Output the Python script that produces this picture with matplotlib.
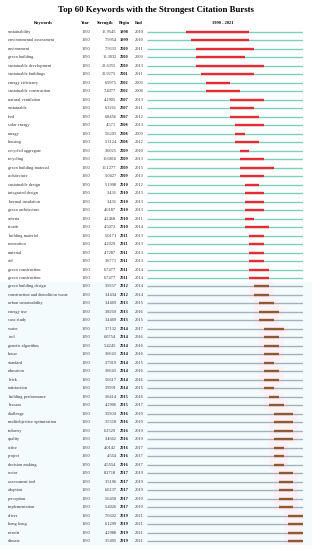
import matplotlib.pyplot as plt
import matplotlib.patches as mpatches

plt.rcParams['font.family'] = ['Liberation Serif', 'DejaVu Serif']

keywords = ['sustainability', 'environmental assessment', 'environment', 'green building',
            'sustainable development', 'sustainable buildings', 'energy efficiency',
            'sustainable construction', 'natural ventilation', 'sustainable', 'leed',
            'solar energy', 'energy', 'housing', 'recycled aggregate', 'recycling',
            'green building material', 'architecture', 'sustainable design', 'integrated design',
            'thermal insulation', 'green architecture', 'criteria', 'facade', 'building material',
            'renovation', 'material', 'cfd', 'green construction', 'green construction',
            'green building design', 'construction and demolition waste', 'urban sustainability',
            'energy use', 'case study', 'water', 'tool', 'genetic algorithm', 'house', 'standard',
            'education', 'brick', 'satisfaction', 'building performance', 'breeam', 'challenge',
            'multiobjective optimization', 'industry', 'quality', 'office', 'project',
            'decision making', 'sector', 'assessment tool', 'adoption', 'perception',
            'implementation', 'driver', 'hong kong', 'retrofit', 'climate']
strength = ['15.9545', '7.9954', '7.9633', '15.3032', '22.6355', '30.9275', '6.9975', '7.4077',
            '4.2905', '6.3261', '6.8456', '4.571', '5.6293', '5.3124', '3.6025', '10.6816',
            '10.1277', '5.0427', '5.1998', '3.436', '3.436', '4.6187', '4.2468', '4.5072',
            '5.0171', '4.2029', '4.7287', '3.6771', '6.7477', '6.7477', '3.9357', '3.4434',
            '3.4469', '3.8269', '3.4469', '3.7132', '6.0754', '5.4245', '3.6643', '3.7919',
            '3.6643', '5.6617', '3.9991', '3.6414', '4.2906', '3.9304', '3.5518', '6.2529',
            '3.4662', '4.0142', '4.564', '4.5554', '8.2718', '3.5196', '6.6237', '5.6450',
            '5.4026', '7.6602', '6.1299', '4.2988', '3.5405']
begin = [1998, 1999, 2000, 2000, 2000, 2001, 2002, 2002, 2007, 2007, 2007, 2008, 2008, 2008,
         2009, 2009, 2009, 2009, 2010, 2010, 2010, 2010, 2010, 2010, 2011, 2011, 2011, 2011,
         2011, 2011, 2012, 2012, 2013, 2013, 2013, 2014, 2014, 2014, 2014, 2014, 2014, 2014,
         2014, 2015, 2015, 2016, 2016, 2016, 2016, 2016, 2016, 2016, 2017, 2017, 2017, 2017,
         2017, 2019, 2019, 2019, 2019]
end = [2010, 2010, 2011, 2009, 2013, 2011, 2006, 2008, 2013, 2011, 2012, 2013, 2009, 2012,
       2010, 2013, 2015, 2013, 2012, 2013, 2013, 2013, 2011, 2014, 2013, 2013, 2013, 2013,
       2014, 2014, 2014, 2014, 2015, 2016, 2015, 2017, 2016, 2016, 2016, 2015, 2016, 2016,
       2015, 2016, 2017, 2019, 2019, 2019, 2019, 2017, 2017, 2017, 2019, 2019, 2019, 2019,
       2019, 2021, 2021, 2021, 2021]
year = 1990
first_year, last_year = 1990, 2021

W, H = 312, 550
fig = plt.figure(figsize=(W / 100, H / 100), dpi=100)
n = len(keywords)
top_px, bot_px = 32, 541
step = (bot_px - top_px) / (n - 1)
ax_top = top_px - step / 2
ax_bot = bot_px + step / 2

# table text axes (x in pixels)
axt = fig.add_axes([0, 1 - ax_bot / H, 1, (ax_bot - ax_top) / H])
axt.set_xlim(0, W)
axt.set_ylim(n - 0.5, -0.5)
axt.axis('off')

# timeline axes (x in years)
x0, x1 = 147, 303
axl = fig.add_axes([x0 / W, 1 - ax_bot / H, (x1 - x0) / W, (ax_bot - ax_top) / H])
axl.set_xlim(first_year, last_year + 1)
axl.set_ylim(n - 0.5, -0.5)
axl.axis('off')

# faint tint over the lower block
tint_from = keywords.index('green building design')
axt.add_patch(mpatches.Rectangle((0, tint_from - 0.5), W, n - tint_from,
                                 facecolor='#f4fbfd', edgecolor='none', zorder=0))

fs = 3.2
for i in range(n):
    axt.text(8, i, keywords[i], fontsize=fs, va='center', ha='left', color='#333333')
    axt.text(85.5, i, str(year), fontsize=fs, va='center', ha='center', color='#333333')
    axt.text(116.5, i, strength[i], fontsize=fs, va='center', ha='right', color='#333333')
    axt.text(124, i, str(begin[i]), fontsize=fs, va='center', ha='center',
             fontweight='bold', color='#111111')
    axt.text(139, i, str(end[i]), fontsize=fs, va='center', ha='center', color='#333333')

    lower = i >= tint_from
    base_c = '#a3b3bd' if lower else '#7fcfc0'
    burst_c = '#8e5a34' if lower else '#e42b36'
    if lower:
        axl.add_patch(mpatches.Rectangle((begin[i] - 1, i - 0.5), end[i] - begin[i] + 3, 1,
                                         facecolor='#fdf1f5', edgecolor='none', zorder=0))
    axl.plot([first_year, last_year + 1], [i, i], color=base_c, lw=1.0,
             solid_capstyle='butt', zorder=2)
    axl.plot([begin[i], end[i] + 1], [i, i], color=burst_c, lw=1.7,
             solid_capstyle='butt', zorder=3)

hy = -0.5 - (ax_top - 23.5) / step
hdr = dict(fontsize=fs, va='center', ha='center', fontweight='bold', clip_on=False)
axt.text(43, hy, 'Keywords', **hdr)
axt.text(85.5, hy, 'Year', **hdr)
axt.text(105, hy, 'Strength', **hdr)
axt.text(124, hy, 'Begin', **hdr)
axt.text(139, hy, 'End', **hdr)
axt.text(223, hy, f'{first_year} - {last_year}', **hdr)

fig.text(156 / W, 1 - 10.5 / H, 'Top 60 Keywords with the Strongest Citation Bursts',
         fontsize=6.3, fontweight='bold', ha='center', va='center')

fig.savefig('out.png', dpi=100)
